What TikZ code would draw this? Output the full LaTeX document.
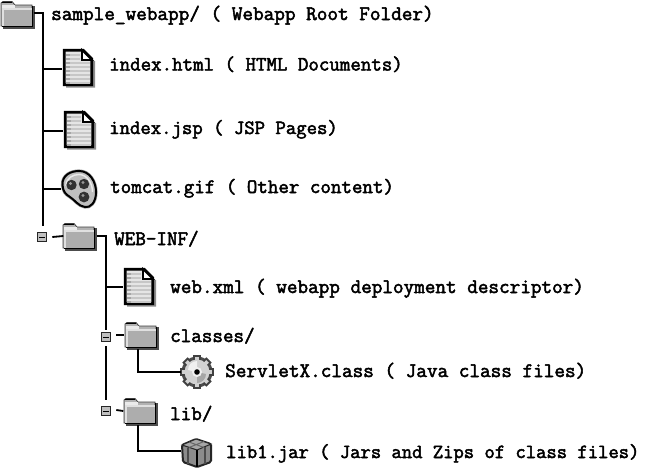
\documentclass[tikz,border=0pt]{standalone}
\usepackage{fontspec}
\newfontfamily\labelfont[FakeBold=2.4]{Latin Modern Mono}
\begin{document}
\begin{tikzpicture}[x=1pt,y=-1pt,
  treeline/.style={draw=black,line width=1.8pt},
  lbl/.style={anchor=base west,inner sep=0pt,font=\labelfont\fontsize{#1}{20pt}\selectfont,text=black},
  lbl/.default=20.5pt,
  minusbox/.style={draw=black!85,fill=black!25,line width=1.1pt,minimum size=9.5pt,inner sep=0pt,
    path picture={\draw[black,line width=1pt] ([xshift=2pt]path picture bounding box.west) -- ([xshift=-2pt]path picture bounding box.east);}},
  pics/foldericon/.style={code={
    \fill[black!70] (2,5) -- (33.5,5) -- (33.5,27.5) -- (2,27.5) -- cycle;
    \draw[black!75,fill=black!30,line width=.8pt] (0,25) -- (0,2) -- (2,0.5) -- (11,0.5) -- (14,4) -- (31,4) -- (31,25) -- cycle;
    \fill[black!8] (1,4) rectangle (14,6.5);
    \fill[black!12] (1,6.5) rectangle (30.5,9);
    \fill[black!32] (1,9) rectangle (30.5,24.5);
    \fill[black!12] (0.5,9) rectangle (2.5,25);
    \draw[black,line width=1.4pt] (31.5,4.5) -- (31.5,25.5) -- (1,25.5);
    \draw[black,line width=1pt] (1,1) -- (11,1);
  }},
  pics/pageicon/.style={code={
    \fill[black!45] (3,6) -- (32,12) -- (32,38.5) -- (3,38.5) -- cycle;
    \draw[black,line width=2.8pt,fill=black!10] (1.2,1.2) -- (20,1.2) -- (28.8,10) -- (28.8,35.8) -- (1.2,35.8) -- cycle;
    \foreach \yy in {5,9,...,33} {
      \fill[black!35] (3,\yy) rectangle (7,\yy+1.8);
      \fill[black!22] (7,\yy) rectangle ({\yy<12?17:27},\yy+1.8);
    }
    \draw[black,line width=1.8pt,fill=white] (19,1.2) -- (19,11) -- (28.8,11) -- cycle;
  }},
  pics/blobicon/.style={code={
    \draw[black!40,line width=3.2pt]
      (1.5,15) .. controls (1,5) and (10,1) .. (18,1)
      .. controls (29,1) and (35,12) .. (35,22)
      .. controls (35,33) and (29,38) .. (24,37)
      .. controls (17,36) and (14,30) .. (9,27)
      .. controls (4,24) and (2,21) .. (1.5,15) -- cycle;
    \draw[black,line width=2pt,fill=black!25]
      (1.5,15) .. controls (1,5) and (10,1) .. (18,1)
      .. controls (29,1) and (35,12) .. (35,22)
      .. controls (35,33) and (29,38) .. (24,37)
      .. controls (17,36) and (14,30) .. (9,27)
      .. controls (4,24) and (2,21) .. (1.5,15) -- cycle;
    \draw[black!8,line width=1.4pt] (5,16) .. controls (5,8) and (12,4.5) .. (18,4.5) .. controls (26,4.5) and (31.5,13) .. (31.5,22);
    \fill[black!80] (10.5,15) circle (5.2);
    \fill[black!80] (23,14) circle (5.2);
    \fill[black!80] (23,27) circle (5.4);
    \fill[black!40] (9.5,13.5) circle (1.6) (22,12.5) circle (1.6) (22,25.5) circle (1.6);
  }},
  pics/gearicon/.style={code={
    \fill[black!70] (0,0) circle (15.5);
    \foreach \a in {0,45,...,315} {
      \fill[black!75,rotate=\a] (-3.8,-17) rectangle (3.8,-11);
      \fill[black!18,rotate=\a] (-1.8,-15) rectangle (1.8,-10);
    }
    \fill[black!18] (0,0) circle (12.5);
    \fill[black!6] (-9,-2) arc (180:270:9) -- (0,0) -- cycle;
    \fill[black!35] (9,2) arc (0:90:9) -- (0,0) -- cycle;
    \fill[black!6] (0,0) circle (5);
    \fill[black] (0,0) circle (2.8);
  }},
  pics/jaricon/.style={code={
    \draw[black!85,line width=2pt,fill=black!45,rounded corners=1.5pt] (1,7) -- (15,1) -- (30,6) -- (30,24) -- (16,29) -- (2,24) -- cycle;
    \draw[black!85,line width=1pt,fill=black!35] (1,7) -- (15,1) -- (30,6) -- (16,12) -- cycle;
    \draw[black,line width=1.2pt] (16,12) -- (16,29);
    \draw[black!70,line width=1.2pt] (7,10) -- (7,26) (24,9) -- (24,26);
    \draw[black!60,line width=1pt] (8,4) -- (23,9.5) (23,3.5) -- (8,9.5);
  }}
]
\useasboundingbox (0,0) rectangle (650,469);
\fill[white] (0,0) rectangle (650,469);

% icons
\path (1,1) pic {foldericon};
\path (63,49) pic {pageicon};
\path (64,111) pic {pageicon};
\path (61,170) pic {blobicon};
\path (63,223) pic {foldericon};
\path (124,268) pic {pageicon};
\path (125,322) pic {foldericon};
\path (197,372) pic {gearicon};
\path (124,398) pic {foldericon};
\path (181,438) pic {jaricon};

% named anchors sitting on the icons
\node[inner sep=0pt,minimum width=33pt,minimum height=26pt] (root) at (17,14) {};
\node[inner sep=0pt,minimum width=31pt,minimum height=38pt] (html) at (78,68) {};
\node[inner sep=0pt,minimum width=31pt,minimum height=38pt] (jsp) at (79,130) {};
\node[inner sep=0pt,minimum width=36pt,minimum height=38pt] (gif) at (79,189) {};
\node[inner sep=0pt,minimum width=33pt,minimum height=26pt] (webinf) at (80,236) {};
\node[inner sep=0pt,minimum width=31pt,minimum height=38pt] (xml) at (139,287) {};
\node[inner sep=0pt,minimum width=33pt,minimum height=26pt] (classes) at (141,335) {};
\node[inner sep=0pt,minimum width=31pt,minimum height=31pt] (gear) at (197,372) {};
\node[inner sep=0pt,minimum width=33pt,minimum height=26pt] (lib) at (140,411) {};
\node[inner sep=0pt,minimum width=31pt,minimum height=28pt] (jar) at (197,453) {};

% minus boxes
\node[minusbox] (m1) at (42,237) {};
\node[minusbox] (m2) at (106,337) {};
\node[minusbox] (m3) at (106,411) {};

% helper coordinates on the trunks
\coordinate (t1) at (43,13);
\coordinate (t2) at (106,236);
\coordinate (t1a) at (43,226);
\coordinate (c1) at (138,349);
\coordinate (c2) at (138,425);

% connectors
\draw[treeline] (root.east |- t1) -- (t1) -- (t1a);
\draw[treeline] (43,69) -- (html.west |- 43,69);
\draw[treeline] (43,131) -- (jsp.west |- 43,131);
\draw[treeline] (43,189) -- (gif.west);
\draw[treeline] ([xshift=5pt]m1.east) -- (webinf.west);
\draw[treeline] (webinf.east) -- (t2) -- (106,330);
\draw[treeline] (106,287) -- (xml.west);
\draw[treeline] (106,346) -- (106,400);
\draw[treeline] ([xshift=5pt]m2.east |- 0,335) -- (classes.west);
\draw[treeline] ([xshift=5pt]m3.east |- 0,410) -- (lib.west);
\draw[treeline] (c1) -- (138,372) -- (gear.west);
\draw[treeline] (c2) -- (138,451) -- (jar.west |- 0,451);

% labels
\node[lbl=20.63pt] (l1) at (51,20) {sample\_webapp/ ( Webapp Root Folder)};
\node[lbl=20.36pt] (l2) at (109,70.5) {index.html ( HTML Documents)};
\node[lbl=20.18pt] (l3) at (109,134) {index.jsp ( JSP Pages)};
\node[lbl=20.41pt] (l4) at (110,193) {tomcat.gif ( Other content)};
\node[lbl] (l5) at (114,245) {WEB-INF/};
\node[lbl=20.6pt] (l6) at (170,293) {web.xml ( webapp deployment descriptor)};
\node[lbl] (l7) at (170,342) {classes/};
\node[lbl=20.62pt] (l8) at (225,377) {ServletX.class ( Java class files)};
\node[lbl] (l9) at (170,420) {lib/};
\node[lbl=20.06pt] (l10) at (226,458) {lib1.jar ( Jars and Zips of class files)};
\end{tikzpicture}
\end{document}
